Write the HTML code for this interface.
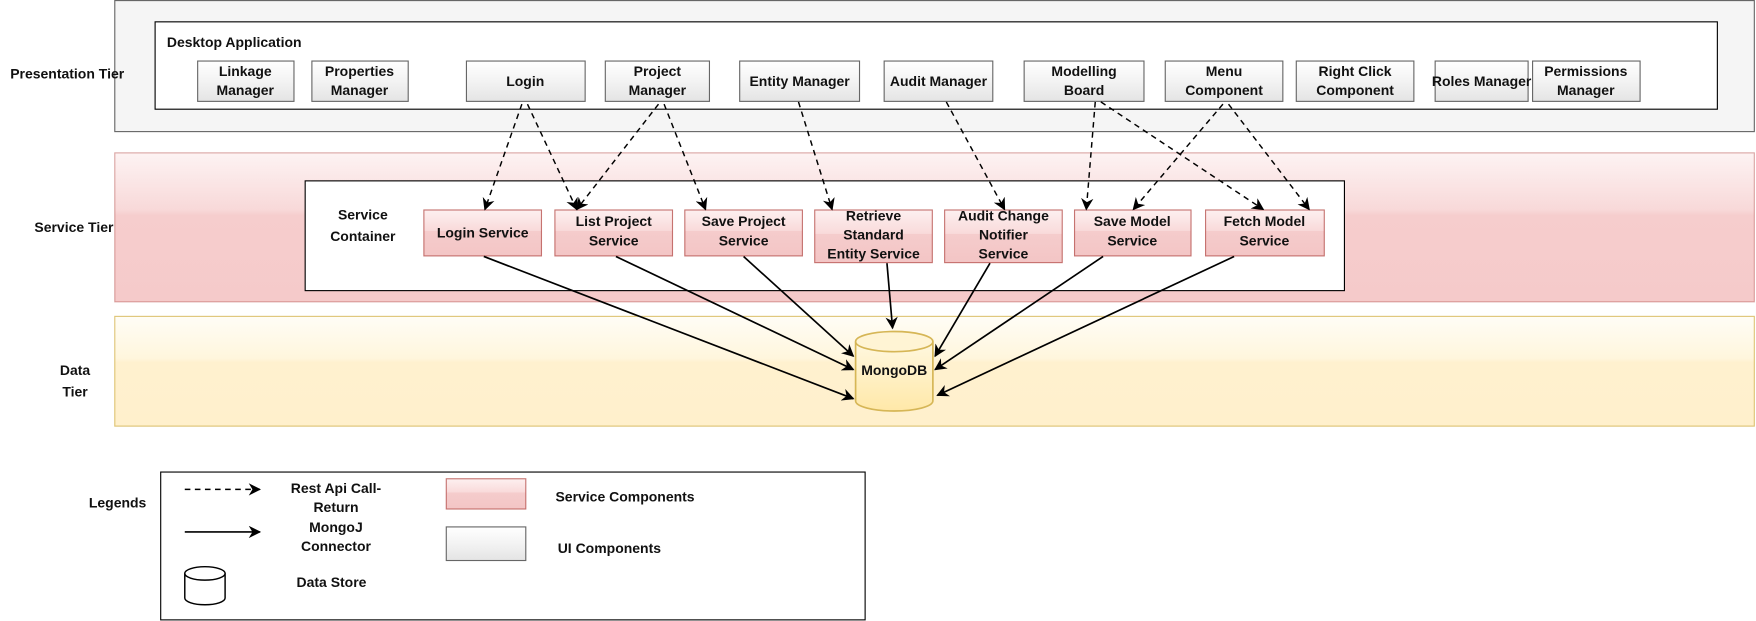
<!DOCTYPE html>
<html><head><meta charset="utf-8"><style>
html,body{margin:0;padding:0;background:#fff}
svg{display:block}
text{font-family:"Liberation Sans",Arial,sans-serif;font-weight:bold;font-size:12.5px;fill:#111}
</style></head><body>
<svg width="1756" height="621" viewBox="0 0 1568 554.5" xmlns="http://www.w3.org/2000/svg">
<defs>
<linearGradient id="gg" x1="0" y1="0" x2="0" y2="1"><stop offset="0" stop-color="#ffffff"/><stop offset="0.5" stop-color="#f3f3f3"/><stop offset="1" stop-color="#e4e4e4"/></linearGradient>
<linearGradient id="pg" x1="0" y1="0" x2="0" y2="1"><stop offset="0" stop-color="#fdf0f0"/><stop offset="0.45" stop-color="#f9dada"/><stop offset="0.46" stop-color="#f5cccc"/><stop offset="1" stop-color="#f3c5c5"/></linearGradient>
<linearGradient id="tierp" x1="0" y1="0" x2="0" y2="1"><stop offset="0" stop-color="#fdf3f3"/><stop offset="0.38" stop-color="#f8d9d9"/><stop offset="0.42" stop-color="#f6cdcd"/><stop offset="1" stop-color="#f5caca"/></linearGradient>
<linearGradient id="tiery" x1="0" y1="0" x2="0" y2="1"><stop offset="0" stop-color="#fffdf6"/><stop offset="0.38" stop-color="#fff6dd"/><stop offset="0.42" stop-color="#fff1cf"/><stop offset="1" stop-color="#fff0cc"/></linearGradient>
<linearGradient id="cy" x1="0" y1="0" x2="0" y2="1"><stop offset="0" stop-color="#fff8e0"/><stop offset="1" stop-color="#ffe8a8"/></linearGradient>
<marker id="a" viewBox="0 0 10 10" refX="9" refY="5" markerWidth="11" markerHeight="11" orient="auto" markerUnits="userSpaceOnUse"><path d="M0,0 L10,5 L0,10 L3,5z" fill="#000"/></marker>
</defs>

<rect x="102.5" y="0.5" width="1464" height="117" fill="#f5f5f5" stroke="#666"/>
<rect x="102.5" y="136.5" width="1464" height="133" fill="url(#tierp)" stroke="#b85450" stroke-opacity="0.5"/>
<rect x="102.5" y="282.5" width="1464" height="98" fill="url(#tiery)" stroke="#d6b656" stroke-opacity="0.8"/>

<text x="60" y="70" text-anchor="middle">Presentation Tier</text>
<text x="66" y="207" text-anchor="middle">Service Tier</text>
<text x="67" y="335" text-anchor="middle">Data</text>
<text x="67" y="354" text-anchor="middle">Tier</text>

<rect x="138.5" y="19.5" width="1395" height="78" fill="#fff" stroke="#000"/>
<text x="149" y="42">Desktop Application</text>
<g stroke="#666" fill="url(#gg)">
<rect x="176.5" y="54.5" width="86" height="36"/>
<rect x="278.5" y="54.5" width="86" height="36"/>
<rect x="416.5" y="54.5" width="106" height="36"/>
<rect x="540.5" y="54.5" width="93" height="36"/>
<rect x="660.5" y="54.5" width="107" height="36"/>
<rect x="789.5" y="54.5" width="97" height="36"/>
<rect x="914.5" y="54.5" width="107" height="36"/>
<rect x="1040.5" y="54.5" width="105" height="36"/>
<rect x="1157.5" y="54.5" width="105" height="36"/>
<rect x="1281.5" y="54.5" width="83" height="36"/>
<rect x="1368.5" y="54.5" width="96" height="36"/>
</g>
<g text-anchor="middle">
<text x="219" y="68">Linkage</text><text x="219" y="85">Manager</text>
<text x="321" y="68">Properties</text><text x="321" y="85">Manager</text>
<text x="469" y="77">Login</text>
<text x="587" y="68">Project</text><text x="587" y="85">Manager</text>
<text x="714" y="77">Entity Manager</text>
<text x="838" y="77">Audit Manager</text>
<text x="968" y="68">Modelling</text><text x="968" y="85">Board</text>
<text x="1093" y="68">Menu</text><text x="1093" y="85">Component</text>
<text x="1210" y="68">Right Click</text><text x="1210" y="85">Component</text>
<text x="1323" y="77">Roles Manager</text>
<text x="1416" y="68">Permissions</text><text x="1416" y="85">Manager</text>
</g>

<rect x="272.5" y="161.5" width="928" height="98" fill="#fff" stroke="#000"/>
<text x="324" y="196" text-anchor="middle">Service</text>
<text x="324" y="215" text-anchor="middle">Container</text>
<g stroke="#b85450" stroke-opacity="0.8" fill="url(#pg)">
<rect x="378.5" y="187.5" width="105" height="41"/>
<rect x="495.5" y="187.5" width="105" height="41"/>
<rect x="611.5" y="187.5" width="105" height="41"/>
<rect x="727.5" y="187.5" width="105" height="47"/>
<rect x="843.5" y="187.5" width="105" height="47"/>
<rect x="959.5" y="187.5" width="104" height="41"/>
<rect x="1076.5" y="187.5" width="106" height="41"/>
</g>
<g text-anchor="middle">
<text x="431" y="212">Login Service</text>
<text x="548" y="202">List Project</text><text x="548" y="219">Service</text>
<text x="664" y="202">Save Project</text><text x="664" y="219">Service</text>
<text x="780" y="197">Retrieve</text><text x="780" y="214">Standard</text><text x="780" y="231">Entity Service</text>
<text x="896" y="197">Audit Change</text><text x="896" y="214">Notifier</text><text x="896" y="231">Service</text>
<text x="1011" y="202">Save Model</text><text x="1011" y="219">Service</text>
<text x="1129" y="202">Fetch Model</text><text x="1129" y="219">Service</text>
</g>

<path d="M764,305 L764,358 A34.5,9 0 0 0 833,358 L833,305" fill="url(#cy)" stroke="#d6b656" stroke-width="1.5"/>
<ellipse cx="798.5" cy="305" rx="34.5" ry="9" fill="#fff4d4" stroke="#d6b656" stroke-width="1.5"/>
<text x="798.5" y="335" text-anchor="middle">MongoDB</text>

<g stroke="#000" stroke-width="1.3" stroke-dasharray="5,4" fill="none" marker-end="url(#a)">
<line x1="466" y1="93" x2="433" y2="187"/>
<line x1="471" y1="93" x2="515" y2="187"/>
<line x1="588" y1="93" x2="515" y2="187"/>
<line x1="593" y1="93" x2="630" y2="187"/>
<line x1="713" y1="91" x2="743" y2="187"/>
<line x1="845" y1="91" x2="897" y2="187"/>
<line x1="978" y1="91" x2="970" y2="187"/>
<line x1="983" y1="91" x2="1128" y2="187"/>
<line x1="1092" y1="93" x2="1012" y2="187"/>
<line x1="1097" y1="93" x2="1169" y2="187"/>
</g>
<g stroke="#000" stroke-width="1.5" fill="none" marker-end="url(#a)">
<line x1="432" y1="229" x2="762" y2="356"/>
<line x1="550" y1="229" x2="762" y2="330"/>
<line x1="664" y1="229" x2="762" y2="318"/>
<line x1="792" y1="235" x2="797" y2="293"/>
<line x1="884" y1="235" x2="835" y2="318"/>
<line x1="985" y1="229" x2="835" y2="330"/>
<line x1="1102" y1="229" x2="837" y2="353"/>
</g>

<text x="105" y="453" text-anchor="middle">Legends</text>
<rect x="143.5" y="421.5" width="629" height="132" fill="#fff" stroke="#000"/>
<line x1="165" y1="437" x2="232" y2="437" stroke="#000" stroke-width="1.3" stroke-dasharray="5,4" marker-end="url(#a)"/>
<line x1="165" y1="475" x2="232" y2="475" stroke="#000" stroke-width="1.5" marker-end="url(#a)"/>
<g text-anchor="middle">
<text x="300" y="440">Rest Api Call-</text><text x="300" y="457">Return</text>
<text x="300" y="475">MongoJ</text><text x="300" y="492">Connector</text>
</g>
<path d="M165,512 L165,534 A18,6 0 0 0 201,534 L201,512" fill="#fff" stroke="#000" stroke-width="1.3"/>
<ellipse cx="183" cy="512" rx="18" ry="6" fill="#fff" stroke="#000" stroke-width="1.3"/>
<text x="296" y="524" text-anchor="middle">Data Store</text>
<rect x="398.5" y="427.5" width="71" height="27" fill="url(#pg)" stroke="#b85450" stroke-opacity="0.8"/>
<text x="496" y="448">Service Components</text>
<rect x="398.5" y="470.5" width="71" height="30" fill="url(#gg)" stroke="#666"/>
<text x="498" y="494">UI Components</text>
</svg>
</body></html>
